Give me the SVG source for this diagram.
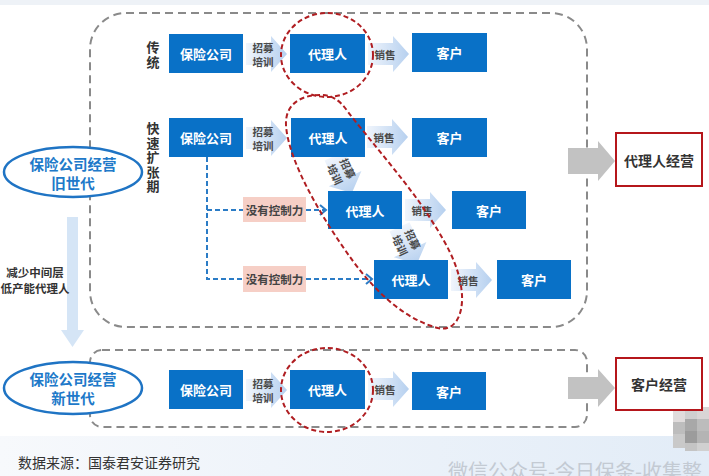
<svg xmlns="http://www.w3.org/2000/svg" width="709" height="476" viewBox="0 0 709 476">
<defs>
<linearGradient id="ag" x1="0" y1="0" x2="1" y2="0">
<stop offset="0" stop-color="#f0f5fc"/>
<stop offset="1" stop-color="#b6d0ef"/>
</linearGradient>
<linearGradient id="bg" x1="0" y1="0" x2="1" y2="0">
<stop offset="0" stop-color="#f7f9fc"/>
<stop offset="1" stop-color="#e2ecf7"/>
</linearGradient>
<path id="arr" d="M0,-11 H25 V-18 L41,0 L25,18 V11 H0 Z" fill="url(#ag)"/>
</defs>
<style>
.t{font-family:"Noto Sans CJK SC","Noto Sans",sans-serif;text-anchor:middle;dominant-baseline:central}
.box{fill:#0971c7}
.bt{fill:#fff;font-size:13px;font-weight:700}
.at{fill:#4a4a4a;font-size:10.5px;font-weight:700}
.lab{font-family:"Noto Sans CJK SC","Noto Sans",sans-serif;fill:#333;font-size:13px;font-weight:700;writing-mode:vertical-rl;letter-spacing:1.5px}
.pk{fill:#f6cfc6}
.pt{fill:#444;font-size:11.5px;font-weight:700}
.dash{fill:none;stroke:#8a8a8a;stroke-width:2;stroke-dasharray:8 5}
.red{fill:none;stroke:#b01e22;stroke-width:2;stroke-dasharray:5 3}
.bl{fill:none;stroke:#2b7cc6;stroke-width:2;stroke-dasharray:5 3}
.chev{fill:none;stroke:#2b7cc6;stroke-width:2}
.ell{fill:#fff;stroke:#1f74c4;stroke-width:2.5}
.et{fill:#2079c9;font-size:14.5px;font-weight:700}
.ga{fill:#c2c2c2}
.rb{fill:#fff;stroke:#b5161b;stroke-width:2}
.rt{fill:#333;font-size:14px;font-weight:700}
</style>
<rect width="709" height="476" fill="#fff"/>
<rect width="709" height="5" fill="#eef2f7"/>
<rect x="0" y="436" width="709" height="40" fill="url(#bg)"/>
<text class="t" x="448" y="470" style="text-anchor:start;fill:#c3cad3;font-size:20px">微信公众号-今日保条-收集整</text>
<g id="mosaic">
<rect x="673" y="410" width="12" height="12" fill="#e0dcdc"/>
<rect x="685" y="407" width="12" height="12" fill="#cfcfcf"/>
<rect x="697" y="407" width="12" height="12" fill="#d9d5d5"/>
<rect x="673" y="422" width="12" height="12" fill="#bdbdbd"/>
<rect x="685" y="419" width="12" height="12" fill="#a8a8a8"/>
<rect x="697" y="419" width="12" height="12" fill="#bcbcbc"/>
<rect x="673" y="434" width="12" height="14" fill="#c9c9c9"/>
<rect x="685" y="431" width="12" height="12" fill="#9c9c9c"/>
<rect x="697" y="431" width="12" height="12" fill="#b4b4b4"/>
<rect x="685" y="443" width="12" height="8" fill="#c4c4c4"/>
<rect x="697" y="443" width="12" height="8" fill="#d0d0d0"/>
</g>

<rect id="oldGroup" class="dash" x="90" y="13" width="497" height="314" rx="36"/>
<rect id="newGroup" class="dash" x="90" y="350" width="497" height="77" rx="12"/>

<g id="leftArrow">
<rect x="67" y="217" width="11" height="113" fill="#d5e5f6"/>
<polygon points="61,330 84,330 72.5,347" fill="#d5e5f6"/>
<text class="t" x="35" y="272" style="fill:#333;font-size:11.5px;font-weight:700">减少中间层</text>
<text class="t" x="35" y="288" style="fill:#333;font-size:11.5px;font-weight:700">低产能代理人</text>
</g>

<g id="oldGen">
<ellipse class="ell" cx="73" cy="172" rx="69" ry="25"/>
<text class="t et" x="73" y="163">保险公司经营</text>
<text class="t et" x="73" y="182">旧世代</text>
</g>
<g id="newGen">
<ellipse class="ell" cx="73" cy="388" rx="69" ry="26"/>
<text class="t et" x="73" y="378">保险公司经营</text>
<text class="t et" x="73" y="397">新世代</text>
</g>

<g id="labels">
<text class="lab" x="153" y="41">传统</text>
<text class="lab" x="153" y="122">快速扩张期</text>
</g>

<g id="connectors">
<path class="bl" d="M207,157 V279 H243"/>
<path class="bl" d="M207,210 H243"/>
<path class="bl" d="M306,210 H325"/>
<polyline class="chev" points="320,205 326,210 320,215"/>
<path class="bl" d="M306,279 H371"/>
<polyline class="chev" points="366,274 372,279 366,284"/>
<g transform="translate(246,54)"><use href="#arr"/><text class="t at" x="17" y="-7">招募</text><text class="t at" x="17" y="7">培训</text></g>
<g transform="translate(368,54)"><use href="#arr"/><text class="t at" x="17" y="0">销售</text></g>
<g transform="translate(246,138)"><use href="#arr"/><text class="t at" x="17" y="-7">招募</text><text class="t at" x="17" y="7">培训</text></g>
<g transform="translate(367,137)"><use href="#arr"/><text class="t at" x="17" y="0">销售</text></g>
<g transform="translate(343,174) rotate(65)"><use href="#arr" x="-20"/><text class="t at" x="-3" y="-7">招募</text><text class="t at" x="-3" y="7">培训</text></g>
<g transform="translate(405,210)"><use href="#arr"/><text class="t at" x="17" y="0">销售</text></g>
<g transform="translate(408,245) rotate(65)"><use href="#arr" x="-20"/><text class="t at" x="-3" y="-7">招募</text><text class="t at" x="-3" y="7">培训</text></g>
<g transform="translate(451,280)"><use href="#arr"/><text class="t at" x="17" y="0">销售</text></g>
<g transform="translate(246,390)"><use href="#arr"/><text class="t at" x="17" y="-7">招募</text><text class="t at" x="17" y="7">培训</text></g>
<g transform="translate(368,389)"><use href="#arr"/><text class="t at" x="17" y="0">销售</text></g>
<path class="ga" d="M568,148 H598 V141 L615,161 L598,181 V174 H568 Z"/>
<path class="ga" d="M568,377 H598 V369 L615,388 L598,407 V399 H568 Z"/>
</g>

<g id="nc1"><rect class="pk" x="243" y="197" width="63" height="25"/><text class="t pt" x="274.5" y="209.5">没有控制力</text></g>
<g id="nc2"><rect class="pk" x="243" y="266" width="63" height="26"/><text class="t pt" x="274.5" y="279">没有控制力</text></g>

<g id="r1c"><rect class="box" x="169" y="34" width="74" height="39"/><text class="t bt" x="206" y="53.5">保险公司</text></g>
<g id="r1a"><rect class="box" x="290" y="34" width="75" height="39"/><text class="t bt" x="327.5" y="53.5">代理人</text></g>
<g id="r1k"><rect class="box" x="412" y="33" width="75" height="39"/><text class="t bt" x="449.5" y="52.5">客户</text></g>

<g id="r2c"><rect class="box" x="169" y="118" width="74" height="39"/><text class="t bt" x="206" y="137.5">保险公司</text></g>
<g id="r2a"><rect class="box" x="291" y="118" width="74" height="39"/><text class="t bt" x="328" y="137.5">代理人</text></g>
<g id="r2k"><rect class="box" x="412" y="118" width="75" height="39"/><text class="t bt" x="449.5" y="137.5">客户</text></g>

<g id="r3a"><rect class="box" x="328" y="191" width="74" height="38"/><text class="t bt" x="365" y="210">代理人</text></g>
<g id="r3k"><rect class="box" x="452" y="191" width="74" height="38"/><text class="t bt" x="489" y="210">客户</text></g>

<g id="r4a"><rect class="box" x="374" y="260" width="74" height="39"/><text class="t bt" x="411" y="279.5">代理人</text></g>
<g id="r4k"><rect class="box" x="497" y="260" width="74" height="39"/><text class="t bt" x="534" y="279.5">客户</text></g>

<g id="n1c"><rect class="box" x="169" y="370" width="74" height="39"/><text class="t bt" x="206" y="389.5">保险公司</text></g>
<g id="n1a"><rect class="box" x="290" y="370" width="75" height="39"/><text class="t bt" x="327.5" y="389.5">代理人</text></g>
<g id="n1k"><rect class="box" x="412" y="372" width="74" height="38"/><text class="t bt" x="449" y="391">客户</text></g>

<g id="agentOp"><rect class="rb" x="616" y="133" width="86" height="53"/><text class="t rt" x="659" y="159.5">代理人经营</text></g>
<g id="clientOp"><rect class="rb" x="616" y="358" width="86" height="52"/><text class="t rt" x="659" y="384">客户经营</text></g>

<g id="highlights">
<ellipse class="red" cx="327" cy="55" rx="46" ry="42"/>
<ellipse class="red" cx="327" cy="390" rx="46" ry="42"/>
<path class="red" d="M320,95 C300,95 285,105 286,125 C288,160 320,215 350,257 C370,285 400,318 438,328 C455,332 463,315 462,295 C460,265 445,240 420,203 C400,175 370,140 348,112 C340,100 332,95 320,95 Z"/>
</g>

<text class="t" x="18" y="462" style="text-anchor:start;fill:#333;font-size:14px">数据来源：国泰君安证券研究</text>
</svg>
